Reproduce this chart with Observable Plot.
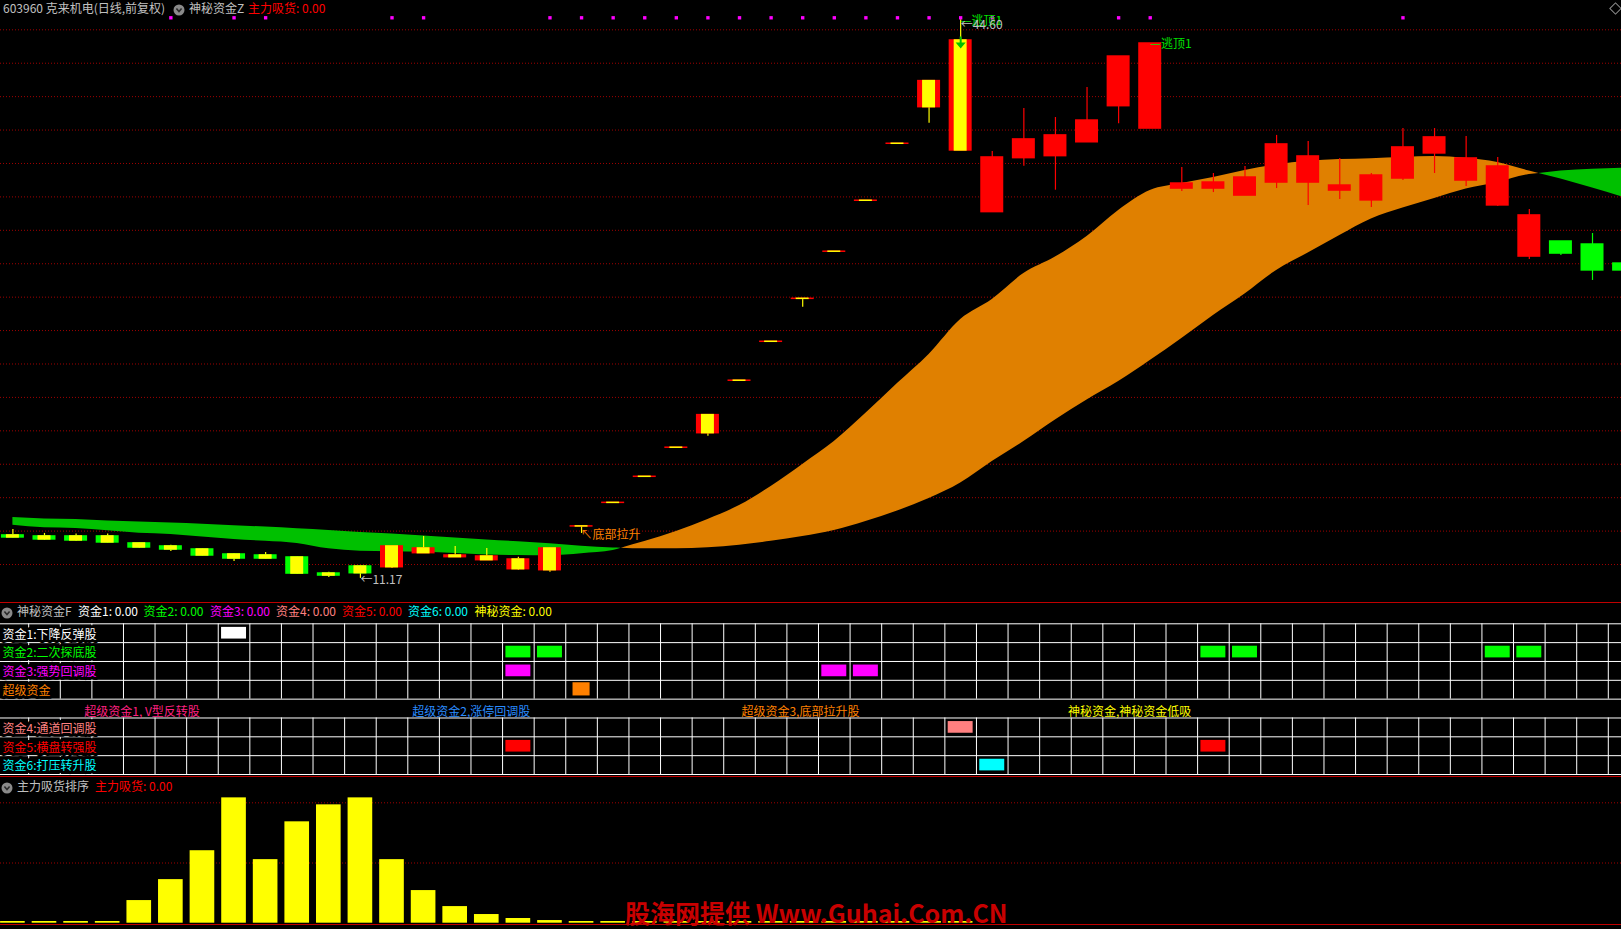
<!DOCTYPE html>
<html><head><meta charset="utf-8">
<script src="https://cdn.jsdelivr.net/npm/d3@7"></script>
<script src="https://cdn.jsdelivr.net/npm/@observablehq/plot@0.6"></script>
<style>
html,body{margin:0;padding:0;background:#000;overflow:hidden;}
#wrap{position:relative;width:1621px;height:929px;background:#000;font-family:"Noto Sans CJK SC","Noto Sans",sans-serif;font-size:12px;overflow:hidden;}
.abs{position:absolute;white-space:nowrap;line-height:14px;}
.panel{position:absolute;left:0;}
.panel svg{display:block;}
.sep{position:absolute;left:0;width:1621px;height:1px;background:#c00000;}
</style></head><body><div id="wrap"></div>
<script>
// ---------------- data ----------------
const open  = [13.74,13.68,13.68,13.68,13.26,13.08,12.90,12.60,12.54,12.42,11.46,11.88,11.84,12.68,12.44,12.26,11.72,11.66,14.28,15.69,17.25,18.99,19.86,23.00,25.33,27.90,30.72,33.77,37.18,39.37,36.78,33.09,36.32,36.44,37.27,39.43,38.09,34.50,34.50,34.08,34.86,34.86,34.38,33.79,35.10,36.60,34.98,33.49,30.43,31.33,31.15,30.01];
const high  = [14.10,13.86,13.82,13.82,13.29,13.16,12.93,12.66,12.72,12.45,11.54,11.91,13.08,13.68,13.08,12.96,12.44,12.99,14.28,15.69,17.25,18.99,20.94,23.00,25.33,27.90,30.72,33.77,37.18,40.93,44.60,36.72,39.29,38.75,40.55,42.40,43.18,35.76,35.40,35.82,37.68,37.32,36.30,35.40,38.09,38.09,37.62,36.36,33.25,31.33,31.81,30.01];
const low   = [13.59,13.44,13.38,13.29,12.96,12.78,12.51,12.18,12.33,11.42,11.22,11.17,11.76,12.66,12.42,12.24,11.66,11.54,13.86,15.69,17.25,18.99,19.68,23.00,25.33,27.40,30.72,33.77,37.18,38.41,36.78,33.09,35.84,34.40,37.27,38.38,38.09,34.32,34.26,34.08,34.50,33.49,33.85,33.37,34.98,35.40,34.62,33.43,30.25,30.49,29.00,29.60];
const close = [13.62,13.50,13.44,13.32,13.02,12.90,12.54,12.36,12.36,11.46,11.34,11.48,13.08,12.96,12.54,12.48,12.30,12.96,14.28,15.69,17.25,18.99,20.94,23.00,25.33,27.90,30.72,33.77,37.18,40.93,43.36,36.36,37.44,37.68,38.57,42.40,43.18,34.80,34.86,35.16,37.14,36.42,34.68,35.28,36.96,37.56,36.30,35.82,32.89,30.61,29.60,29.60];

const fastLine = [14.35,14.20,14.16,14.02,13.87,13.80,13.65,13.50,13.39,13.26,12.94,12.79,12.76,12.73,12.66,12.57,12.54,12.53,12.65,12.84,13.37,13.98,14.70,15.53,16.67,17.99,19.36,21.05,22.83,24.57,26.66,27.86,29.41,30.40,31.63,33.19,34.38,34.80,35.16,35.58,35.91,36.13,36.24,36.29,36.36,36.42,36.31,36.06,35.55,35.07,34.53,33.96];
const slowLine = [14.82,14.73,14.70,14.61,14.55,14.48,14.41,14.32,14.24,14.14,14.04,13.92,13.82,13.71,13.59,13.47,13.36,13.24,13.10,12.99,12.94,12.94,13.01,13.16,13.39,13.68,14.04,14.58,15.20,15.95,16.88,18.17,19.36,20.65,21.85,22.95,24.21,25.53,26.90,28.19,29.60,30.64,31.69,32.68,33.34,33.91,34.47,34.86,35.34,35.55,35.66,35.72];

const priceGrid = [12,14,16,18,20,22,24,26,28,30,32,34,36,38,40,42,44];

const signalDots = [5,7,8,12,13,17,18,19,20,21,22,23,24,25,26,27,28,29,30,31,35,36,44];
const topSignals = [30,36];
const arrowSignals = [30];
const bottomSignals = [18];

const fund1 = [7];
const fund2 = [16,17,38,39,47,48];
const fund3 = [16,26,27];
const superFund = [18];
const fund4 = [30];
const fund5 = [16,38];
const fund6 = [31];

const rowLabels = ["资金1:下降反弹股","资金2:二次探底股","资金3:强势回调股","超级资金","资金4:通道回调股","资金5:横盘转强股","资金6:打压转升股"];
const groupLabels = ["超级资金1, V型反转股","超级资金2,涨停回调股","超级资金3,底部拉升股","神秘资金,神秘资金低吸"];

const absorb = [1.4,1.4,1.4,1.4,18.8,36.2,60.2,104.1,52.8,84.2,98.3,104.1,52.8,27.1,13.8,7.2,3.9,2.2,1.4,1.4,1.4,1.4,1.4,1.4,1.4,1.4,1.4,1.4,1.4,1.4,1.4];
const absorbGrid = [50,100];

// ---------------- layout / style ----------------
const W = 1621;
const FONT = "'Noto Sans CJK SC','Noto Sans',sans-serif";
const xDomain = [-0.3924, 50.9177];
const pxToX = px => xDomain[0] + px * (xDomain[1] - xDomain[0]) / W;
const RED = "#ff0000", GRN = "#00ff00", YEL = "#ffff00";
const GRID = "#a00000";
const wrap = document.getElementById("wrap");

function addText(txt, x, yc, color, extra) {
  const s = document.createElement("span");
  s.className = "abs";
  s.textContent = txt;
  s.style.left = x + "px";
  s.style.top = (yc - 7) + "px";
  s.style.color = color;
  if (extra) Object.assign(s.style, extra);
  wrap.appendChild(s);
  return s;
}
function addIcon(x, yc) {
  const d = document.createElement("div");
  d.style.cssText = `position:absolute;left:${x}px;top:${yc-6}px;width:12px;height:12px;`;
  d.innerHTML = '<svg width="12" height="12"><circle cx="6" cy="6" r="5.5" fill="#8a8a8a"/><path d="M3.4,4.6 L6,7.6 L8.6,4.6" fill="none" stroke="#2b2b2b" stroke-width="1.6"/></svg>';
  wrap.appendChild(d);
}
function addPanel(top, svg) {
  const d = document.createElement("div");
  d.className = "panel";
  d.style.top = top + "px";
  d.appendChild(svg);
  wrap.appendChild(d);
}
function addSep(y) {
  const d = document.createElement("div");
  d.className = "sep";
  d.style.top = y + "px";
  wrap.appendChild(d);
}

// ---------------- main price panel ----------------
const N = open.length;
const candles = d3.range(N).map(i => ({i, o: open[i], h: high[i], l: low[i], c: close[i]}));
const coloredUntil = topSignals[0];
const isUp = d => d.c >= d.o;
const colored = candles.filter(d => d.i <= coloredUntil);

// ribbon split where fast/slow cross
const ribbon = [];
let run = 0;
for (let i = 0; i < N; i++) {
  const dd = fastLine[i] - slowLine[i];
  const up = dd >= 0;
  if (i > 0) {
    const dp = fastLine[i-1] - slowLine[i-1];
    if ((dp >= 0) !== up) {
      const t = dp / (dp - dd);
      const xc = i - 1 + t;
      const yc = slowLine[i-1] + t * (slowLine[i] - slowLine[i-1]);
      ribbon.push({x: xc, y1: yc, y2: yc, run, up: dp >= 0});
      run++;
      ribbon.push({x: xc, y1: yc, y2: yc, run, up});
    }
  }
  ribbon.push({x: i, y1: slowLine[i], y2: fastLine[i], run, up});
}

const arrowDown = {draw(ctx) {
  ctx.moveTo(-1, -4); ctx.lineTo(1, -4); ctx.lineTo(1, 2); ctx.lineTo(5, 2);
  ctx.lineTo(0, 8); ctx.lineTo(-5, 2); ctx.lineTo(-1, 2); ctx.closePath();
}};

const hiI = d3.maxIndex(high), loI = d3.minIndex(low);

const main = Plot.plot({
  width: W, height: 603, margin: 0,
  x: {domain: xDomain, range: [0, W], axis: null},
  y: {domain: [9.667, 45.7534], range: [603, 0], axis: null},
  color: {type: "identity"},
  style: {background: "transparent", fontFamily: FONT, fontSize: "12px"},
  marks: [
    Plot.ruleY(priceGrid, {stroke: GRID, strokeDasharray: "1,2"}),
    Plot.areaY(ribbon.filter(d => !d.up), {x: "x", y1: "y1", y2: "y2", z: "run", fill: "#00c000", curve: "monotone-x"}),
    Plot.areaY(ribbon.filter(d => d.up), {x: "x", y1: "y1", y2: "y2", z: "run", fill: "#e08000", curve: "monotone-x"}),
    Plot.ruleX(candles, {x: "i", y1: "l", y2: "h", stroke: d => d.i <= coloredUntil ? YEL : (isUp(d) ? RED : GRN), strokeWidth: 1.2}),
    Plot.rect(candles, {x1: d => d.i - 0.364, x2: d => d.i + 0.364, y1: d => Math.min(d.o, d.c), y2: d => Math.max(d.o, d.c),
      fill: d => isUp(d) ? RED : GRN, insetTop: -0.75, insetBottom: -0.75}),
    Plot.rect(colored, {x1: d => d.i - 0.205, x2: d => d.i + 0.205, y1: d => Math.min(d.o, d.c), y2: d => Math.max(d.o, d.c),
      fill: YEL, insetTop: -0.75, insetBottom: -0.75}),
    Plot.dot(arrowSignals, {x: d => d, y: d => close[d], symbol: arrowDown, fill: "#00c000", stroke: "none", r: 3}),
    Plot.dot(signalDots, {x: d => d, frameAnchor: "top", dy: 17.3, symbol: "square", r: 1.9, fill: "#ff00ff", stroke: "none"}),
    Plot.text(topSignals, {x: d => d, y: d => high[d], text: () => "—逃顶1", fill: "#00e000", textAnchor: "start", dx: 0, dy: 1, fontSize: 12}),
    Plot.text([hiI], {x: d => d, y: d => high[d], text: d => "←" + high[d].toFixed(2), fill: "#c0c0c0", textAnchor: "start", dx: 0, dy: 5, fontSize: 12}),
    Plot.text([loI], {x: d => d, y: d => low[d], text: d => "←" + low[d].toFixed(2), fill: "#c0c0c0", textAnchor: "start", dx: 0, dy: 2, fontSize: 12}),
    Plot.text(bottomSignals, {x: d => d, y: d => close[d], text: () => "↖底部拉升", fill: "#ff8000", textAnchor: "start", dx: -1, dy: 9, fontSize: 12})
  ]
});
addPanel(0, main);

// header texts, top
addText("603960 克来机电(日线,前复权)", 3, 8, "#c0c0c0");
addIcon(173, 8);
addText("神秘资金Z", 189, 8, "#c0c0c0");
addText("主力吸货: 0.00", 248, 8, "#ff0000");
const dia = document.createElement("div");
dia.style.cssText = "position:absolute;left:1611px;top:4px;width:7px;height:7px;border:1px solid #909090;transform:rotate(45deg);";
wrap.appendChild(dia);

addSep(602);

// ---------------- signal grid panel ----------------
const markers = [
  ...fund1.map(k => ({k, row: 0, fill: "#ffffff", w: 0.395, t: 0.19, b: 0.81})),
  ...fund2.map(k => ({k, row: 1, fill: "#00ff00", w: 0.395, t: 0.19, b: 0.81})),
  ...fund3.map(k => ({k, row: 2, fill: "#ff00ff", w: 0.395, t: 0.19, b: 0.81})),
  ...superFund.map(k => ({k, row: 3, fill: "#ff8000", w: 0.27, t: 0.13, b: 0.83})),
  ...fund4.map(k => ({k, row: 5, fill: "#ff8080", w: 0.395, t: 0.19, b: 0.81})),
  ...fund5.map(k => ({k, row: 6, fill: "#ff0000", w: 0.395, t: 0.19, b: 0.81})),
  ...fund6.map(k => ({k, row: 7, fill: "#00ffff", w: 0.395, t: 0.19, b: 0.81}))
];
const labelRows = [0, 1, 2, 3, 5, 6, 7];
const labelColors = ["#ffffff", "#00ff00", "#ff00ff", "#ff8000", "#ff8080", "#ff0000", "#00ffff"];
const rowLab = rowLabels.map((t, j) => ({t, row: labelRows[j], color: labelColors[j]}));
const groupColors = ["#ff2080", "#2a8cff", "#ff8000", "#ffff00"];
const groupLab = groupLabels.map((t, j) => ({t, color: groupColors[j], gx: pxToX(W * (0.0873 + 0.2031 * j))}));
const colBounds = d3.range(N - 1).map(k => k + 0.5);

const grid = Plot.plot({
  width: W, height: 174, margin: 0,
  x: {domain: xDomain, range: [0, W], axis: null},
  y: {domain: [0, 8], range: [20.3, 171], axis: null},
  color: {type: "identity"},
  style: {background: "transparent", fontFamily: FONT, fontSize: "12px"},
  marks: [
    Plot.ruleY(d3.range(0, 9), {stroke: "#ffffff", strokeWidth: 1}),
    Plot.ruleX(colBounds, {x: d => d, y1: 0, y2: 4, stroke: "#ffffff", strokeWidth: 1}),
    Plot.ruleX(colBounds, {x: d => d, y1: 5, y2: 8, stroke: "#ffffff", strokeWidth: 1}),
    Plot.rect(markers, {x1: d => d.k - d.w, x2: d => d.k + d.w, y1: d => d.row + d.t, y2: d => d.row + d.b, fill: "fill"}),
    Plot.text(rowLab, {frameAnchor: "left", y: d => d.row + 0.58, text: "t", fill: "color", textAnchor: "start", dx: 2,
      stroke: "#000", strokeWidth: 6, paintOrder: "stroke", fontSize: 12}),
    Plot.text(groupLab, {x: "gx", y: () => 4.68, text: "t", fill: "color", textAnchor: "middle", fontSize: 12})
  ]
});
addPanel(603, grid);

// header texts, middle
addIcon(1, 611);
addText("神秘资金F", 17, 611, "#c0c0c0");
addText("资金1: 0.00", 78, 611, "#ffffff");
addText("资金2: 0.00", 143.5, 611, "#00ff00");
addText("资金3: 0.00", 210, 611, "#ff00ff");
addText("资金4: 0.00", 276, 611, "#ff8080");
addText("资金5: 0.00", 342, 611, "#ff0000");
addText("资金6: 0.00", 408, 611, "#00ffff");
addText("神秘资金: 0.00", 474.5, 611, "#ffff00");

addSep(776);

// ---------------- absorb panel ----------------
const bars = absorb.map((v, i) => ({i, v}));
const bottom = Plot.plot({
  width: W, height: 152, margin: 0,
  x: {domain: xDomain, range: [0, W], axis: null},
  y: {domain: [0, 100], range: [145.7, 25.3], axis: null},
  style: {background: "transparent", fontFamily: FONT, fontSize: "12px"},
  marks: [
    Plot.ruleY(absorbGrid, {stroke: GRID, strokeDasharray: "1,2"}),
    Plot.rect(bars, {x1: d => d.i - 0.39, x2: d => d.i + 0.39, y1: 0, y2: "v", fill: YEL})
  ]
});
addPanel(777, bottom);
addIcon(1, 786);
addText("主力吸货排序", 17, 786, "#c0c0c0");
addText("主力吸货: 0.00", 95, 786, "#ff0000");
addSep(924);

// watermark
addText("股海网提供 Www.Guhai.Com.CN", 625, 912, "#c80000", {fontSize: "25px", fontWeight: "bold", lineHeight: "28px", top: "898px"});
</script></body></html>
